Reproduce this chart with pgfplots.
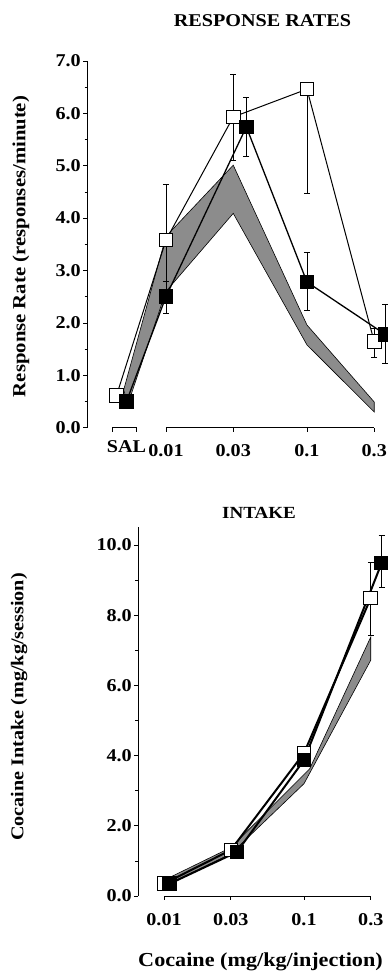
\documentclass[border=0pt]{standalone}
\usepackage{fontspec}
\setmainfont{Liberation Serif}[FakeStretch=1.12]
\usepackage{pgfplots}
\pgfplotsset{compat=1.18}
\begin{document}
\bfseries
\fontsize{18}{21}\selectfont
\begin{tikzpicture}[x=1pt,y=1pt]
\path[use as bounding box] (0,0) rectangle (388,977);
\pgfplotsset{
  common/.style={
    scale only axis, clip=false,
    axis x line*=bottom, axis y line*=left,
    x axis line style={draw=none},
    y axis line style={line width=0.8pt},
    tick align=outside,
    major tick length=4pt, minor tick length=2.5pt,
    tick style={black, line width=0.7pt},
    every tick label/.append style={font=\fontsize{18}{21}\selectfont\bfseries},
    xticklabel style={yshift=-7pt},
    yticklabel style={xshift=4pt},
    xtick={-2,-1.5229,-1,-0.5229}, xticklabels={0.01,0.03,0.1,0.3},
  },
  errs/.style={
    error bars/y dir=both, error bars/y explicit,
    error bars/error bar style={line width=0.6pt},
    error bars/error mark options={rotate=90, mark size=3pt, line width=0.6pt}},
  openmk/.style={errs, black, line width=1pt, mark=square*, mark size=6.8pt,
    mark options={fill=white, solid, line width=1pt}},
  fillmk/.style={errs, black, line width=1.3pt, mark=square*, mark size=6.8pt,
    mark options={fill=black, solid, line width=1pt}},
}
% ---------------- top panel ----------------
\begin{axis}[common,
  at={(87pt,549.3pt)}, anchor=south west,
  width=300.9pt, height=366.8pt,
  xmin=-2.56, xmax=-0.426, ymin=0, ymax=7,
  ytick={0,1,...,7}, yticklabels={0.0,1.0,2.0,3.0,4.0,5.0,6.0,7.0},
  minor y tick num=1,
  extra x ticks={-2.28}, extra x tick labels={SAL},
  extra x tick style={major tick length=0pt},
]
\draw[line width=0.8pt] (axis cs:-2,0) -- (axis cs:-0.5229,0);
\draw[line width=0.8pt] (axis cs:-2.383,-0.08) -- (axis cs:-2.383,0) -- (axis cs:-2.213,0) -- (axis cs:-2.213,-0.08);
\addplot[fill=black!45, draw=black, line width=0.6pt] coordinates {
  (-2.30,0.72) (-2,3.65) (-1.5229,5.01) (-1,1.96) (-0.5229,0.49)
  (-0.5229,0.30) (-1,1.58) (-1.5229,4.09) (-2,2.6) (-2.27,0.45)} -- cycle;
\addplot[openmk] table[x=x,y=y,y error plus=ep,y error minus=em] {
x y ep em
-2.35 0.62 0 0
-2 3.58 1.06 1.0
-1.5229 5.93 0.82 0.83
-1 6.46 0 1.98
-0.5229 1.64 0.25 0.29
};
\addplot[fillmk] table[x=x,y=y,y error plus=ep,y error minus=em] {
x y ep em
-2.28 0.5 0 0
-2 2.5 0.3 0.31
-1.43 5.74 0.56 0.56
-1 2.78 0.56 0.54
-0.445 1.78 0.57 0.55
};
\end{axis}
% ---------------- bottom panel ----------------
\begin{axis}[common,
  at={(138pt,81pt)}, anchor=south west,
  width=250pt, height=368.6pt,
  xmin=-2.186, xmax=-0.4, ymin=0, ymax=10.5,
  ytick={0,2,...,10}, yticklabels={0.0,2.0,4.0,6.0,8.0,10.0},
  minor y tick num=1,
]
\draw[line width=0.8pt] (axis cs:-2,0) -- (axis cs:-0.5229,0);
\addplot[fill=black!45, draw=black, line width=0.6pt] coordinates {
  (-2,0.45) (-1.5229,1.38) (-0.96,3.62) (-0.5229,7.38)
  (-0.5229,6.72) (-1,3.2) (-1.5229,1.2) (-2,0.28)} -- cycle;
\addplot[openmk, line width=2pt] table[x=x,y=y,y error plus=ep,y error minus=em] {
x y ep em
-2 0.35 0 0
-1.5229 1.31 0 0
-1 4.07 0 0
-0.5229 8.49 1.01 1.06
};
\addplot[fillmk, line width=2pt] table[x=x,y=y,y error plus=ep,y error minus=em] {
x y ep em
-1.96 0.35 0 0
-1.48 1.25 0 0
-1 3.87 0 0
-0.445 9.49 0.79 0.69
};
\end{axis}
% ---------------- titles and labels ----------------
\node at (262.5,956) {RESPONSE RATES};
\node[rotate=90] at (21,730.5) {\fontsize{18.5}{21}\selectfont Response Rate (responses/minute)};
\node at (259,464) {\fontsize{17}{20}\selectfont INTAKE};
\node[rotate=90] at (19,270) {Cocaine Intake (mg/kg/session)};
\node at (260.5,15) {\fontsize{19.8}{22}\selectfont Cocaine (mg/kg/injection)};
\end{tikzpicture}
\end{document}
